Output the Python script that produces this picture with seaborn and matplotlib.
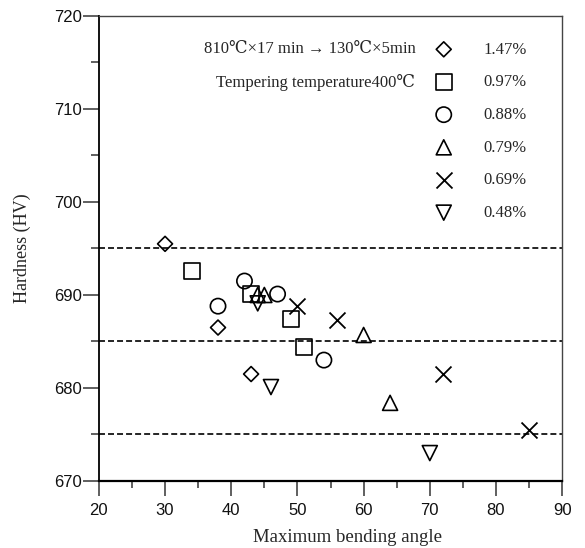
import numpy as np
import pandas as pd
import seaborn as sns
import matplotlib.pyplot as plt
from matplotlib.ticker import MultipleLocator

sns.set_style("ticks")
plt.rcParams['font.family'] = ['Liberation Sans', 'DejaVu Sans']
plt.rcParams['lines.scale_dashes'] = False
serif = ['Liberation Serif', 'DejaVu Serif', 'Noto Sans CJK SC']

# carbon content series (legend labels) and their markers
labels = ['1.47%', '0.97%', '0.88%', '0.79%', '0.69%', '0.48%']
markers = ['D', 's', 'o', '^', 'x', 'v']
sizes = [58, 132, 121, 117, 132, 117]

# maximum bending angle (x) and hardness HV (y)
angle_147 = [30, 38, 43]
hv_147 = [695.5, 686.5, 681.5]
angle_097 = [34, 43, 49, 51]
hv_097 = [692.6, 690.1, 687.4, 684.4]
angle_088 = [38, 42, 47, 54]
hv_088 = [688.8, 691.5, 690.1, 683.0]
angle_079 = [44, 45, 60, 64]
hv_079 = [690.0, 690.0, 685.7, 678.4]
angle_069 = [50, 56, 72, 85]
hv_069 = [688.8, 687.3, 681.5, 675.5]
angle_048 = [44, 46, 70]
hv_048 = [689.1, 680.1, 673.0]

ref_levels = [695, 685, 675]

xs = [angle_147, angle_097, angle_088, angle_079, angle_069, angle_048]
ys = [hv_147, hv_097, hv_088, hv_079, hv_069, hv_048]

fig, ax = plt.subplots(figsize=(5.85, 5.48), dpi=100)
fig.subplots_adjust(left=0.169, right=0.961, bottom=0.1223, top=0.9708)

for lvl in ref_levels:
    ax.axhline(lvl, color='black', lw=1.2, linestyle=(0, (4.3, 2.2)), zorder=1)

for lab, m, s, x, y in zip(labels, markers, sizes, xs, ys):
    df = pd.DataFrame({'angle': x, 'hv': y})
    if m == 'x':
        sns.scatterplot(data=df, x='angle', y='hv', marker=m, s=s, color='black',
                        linewidth=1.3, label=lab, ax=ax, zorder=3)
    else:
        sns.scatterplot(data=df, x='angle', y='hv', marker=m, s=s, facecolor='none',
                        edgecolor='black', linewidth=1.2, label=lab, ax=ax, zorder=3)

ax.set_xlim(20, 90)
ax.set_ylim(670, 720)
ax.xaxis.set_major_locator(MultipleLocator(10))
ax.xaxis.set_minor_locator(MultipleLocator(5))
ax.yaxis.set_major_locator(MultipleLocator(10))
ax.yaxis.set_minor_locator(MultipleLocator(5))

ax.tick_params(axis='x', which='major', direction='out', length=11, width=1.2,
               color='#444444', pad=5, labelsize=12, labelcolor='#111111')
ax.tick_params(axis='x', which='minor', direction='out', length=5, width=1.2, color='#444444')
ax.tick_params(axis='y', which='major', direction='out', length=11.5, width=1.2,
               color='#444444', pad=1, labelsize=12, labelcolor='#111111')
ax.tick_params(axis='y', which='minor', direction='out', length=6, width=1.2, color='#444444')

for side in ['top', 'right']:
    ax.spines[side].set_visible(True)
    ax.spines[side].set_color('#444444')
    ax.spines[side].set_linewidth(1.0)
ax.spines['bottom'].set_color('black')
ax.spines['bottom'].set_linewidth(1.6)
ax.spines['left'].set_color('black')
ax.spines['left'].set_linewidth(1.3)

ax.set_xlabel('Maximum bending angle', family=serif, fontsize=13.5)
ax.set_ylabel('Hardness (HV)', family=serif, fontsize=13)
ax.xaxis.set_label_coords(0.536, -0.104)
ax.yaxis.set_label_coords(-0.147, 0.5)

ax.text(0.683, 0.929, '810℃×17 min → 130℃×5min', transform=ax.transAxes,
        ha='right', va='center', family=serif, fontsize=12)
ax.text(0.683, 0.856, 'Tempering temperature400℃', transform=ax.transAxes,
        ha='right', va='center', family=serif, fontsize=12)

ax.legend(frameon=False, loc='upper left', bbox_to_anchor=(0.676, 0.977),
          labelspacing=1.0, handletextpad=1.4, prop={'family': serif, 'size': 12})

fig.savefig('out.png', dpi=100)
